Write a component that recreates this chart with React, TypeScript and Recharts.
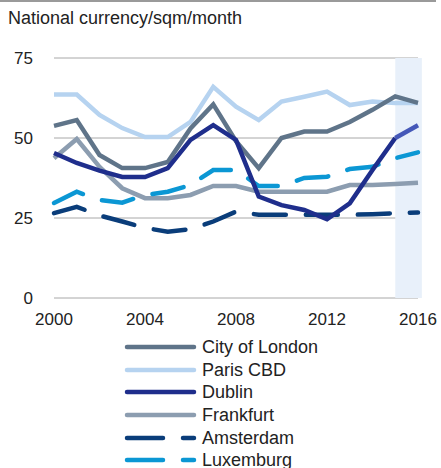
import React from 'react';
import { LineChart, Line, XAxis, YAxis, CartesianGrid, ReferenceArea } from 'recharts';

const years = [2000, 2001, 2002, 2003, 2004, 2005, 2006, 2007, 2008, 2009, 2010, 2011, 2012, 2013, 2014, 2015, 2016];

const london = [53.8, 55.6, 44.7, 40.6, 40.6, 42.5, 53, 60.5, 49, 40.6, 50, 52, 52, 55, 58.8, 63, 61];
const paris = [63.6, 63.6, 57.2, 53.1, 50.3, 50.3, 55, 66, 59.8, 55.6, 61.4, 62.9, 64.5, 60.3, 61.4, 60.9, 60.9];
const dublin = [45.3, 42.2, 39.8, 37.8, 37.8, 40.6, 49.4, 54, 49.4, 31.7, 29, 27.5, 24.6, 29.6, 40, 50, null];
const dublinForecast = [null, null, null, null, null, null, null, null, null, null, null, null, null, null, null, 50, 54];
const frankfurt = [43.7, 49.7, 41, 34.3, 31.2, 31.2, 32.2, 35, 35, 33.2, 33.2, 33.2, 33.2, 35.3, 35.3, 35.6, 36];
const amsterdam = [26.5, 28.5, 25.8, 23.9, 21.9, 20.7, 21.5, 23.9, 27, 26, 26, 26, 26, 26, 26.2, 26.5, 26.7];
const luxemburg = [29.7, 33.2, 30.6, 29.8, 32.2, 33.2, 35.3, 40, 40, 35, 35, 37.5, 37.9, 40.3, 41, 43.7, 45.5];

const yTicks = [0, 25, 50, 75];
const xTicks = [2000, 2004, 2008, 2012, 2016];

const data = years.map((year, i) => ({
  year,
  london: london[i],
  paris: paris[i],
  dublin: dublin[i],
  dublinForecast: dublinForecast[i],
  frankfurt: frankfurt[i],
  amsterdam: amsterdam[i],
  luxemburg: luxemburg[i],
}));

const legendItems = [
  { name: 'City of London', color: '#5f7489', dash: undefined },
  { name: 'Paris CBD', color: '#b6d3f0', dash: undefined },
  { name: 'Dublin', color: '#1f2e8c', dash: undefined },
  { name: 'Frankfurt', color: '#8c9db0', dash: undefined },
  { name: 'Amsterdam', color: '#0a3d7a', dash: '36 20' },
  { name: 'Luxemburg', color: '#0b97d4', dash: '36 20' },
];

const font = '"Liberation Sans", Arial, sans-serif';

export default function App() {
  return (
    <div style={{ position: 'absolute', left: 0, top: 0, width: 441, height: 468, background: '#fff', fontFamily: font, overflow: 'hidden' }}>
      <div style={{ position: 'absolute', left: 0, top: 0, width: 436, height: 2, background: '#9a9a9a' }} />
      <div style={{ position: 'absolute', left: 8, top: 8, fontSize: 18, color: '#222' }}>
        National currency/sqm/month
      </div>
      <div style={{ position: 'absolute', left: 0, top: 0 }}>
        <LineChart width={441} height={330} data={data} margin={{ top: 58, right: 23, left: 0, bottom: 0 }}>
          <ReferenceArea x1={2015} x2={2016.17} y1={0} y2={75} fill="#e8f0fa" fillOpacity={1} stroke="none" ifOverflow="visible" />
          <CartesianGrid vertical={false} stroke="#a8a8a8" strokeWidth={1} />
          <XAxis
            dataKey="year"
            type="number"
            domain={[2000, 2016]}
            ticks={xTicks}
            interval={0}
            axisLine={false}
            tickLine={false}
            tickSize={13}
            tickMargin={2}
            height={32}
            tick={{ fill: '#222', fontSize: 17, fontFamily: font }}
          />
          <YAxis
            domain={[0, 75]}
            ticks={yTicks}
            interval={0}
            axisLine={false}
            tickLine={false}
            tickSize={19}
            tickMargin={2}
            width={54}
            tick={{ fill: '#222', fontSize: 17, fontFamily: font }}
          />
          <Line dataKey="frankfurt" stroke="#8c9db0" strokeWidth={4.5} dot={false} isAnimationActive={false} />
          <Line dataKey="luxemburg" stroke="#0b97d4" strokeWidth={4.5} strokeDasharray="32 20" strokeLinecap="round" dot={false} isAnimationActive={false} />
          <Line dataKey="amsterdam" stroke="#0a3d7a" strokeWidth={4.5} strokeDasharray="32 20" strokeLinecap="round" dot={false} isAnimationActive={false} />
          <Line dataKey="paris" stroke="#b6d3f0" strokeWidth={4.5} dot={false} isAnimationActive={false} />
          <Line dataKey="london" stroke="#5f7489" strokeWidth={4.5} dot={false} isAnimationActive={false} />
          <Line dataKey="dublin" stroke="#1f2e8c" strokeWidth={4.5} dot={false} isAnimationActive={false} />
          <Line dataKey="dublinForecast" stroke="#4558b8" strokeWidth={4.5} dot={false} isAnimationActive={false} />
        </LineChart>
      </div>
      <div style={{ position: 'absolute', left: 0, top: 336 }}>
        {legendItems.map((item) => (
          <div key={item.name} style={{ display: 'flex', alignItems: 'center', height: 22.6 }}>
            <svg width={200} height={22} style={{ display: 'block' }}>
              <line
                x1={127}
                x2={194}
                y1={11}
                y2={11}
                stroke={item.color}
                strokeWidth={4.5}
                strokeLinecap="round"
                strokeDasharray={item.dash}
              />
            </svg>
            <span style={{ fontSize: 18, color: '#222', marginLeft: 2, lineHeight: '22px' }}>{item.name}</span>
          </div>
        ))}
      </div>
    </div>
  );
}
